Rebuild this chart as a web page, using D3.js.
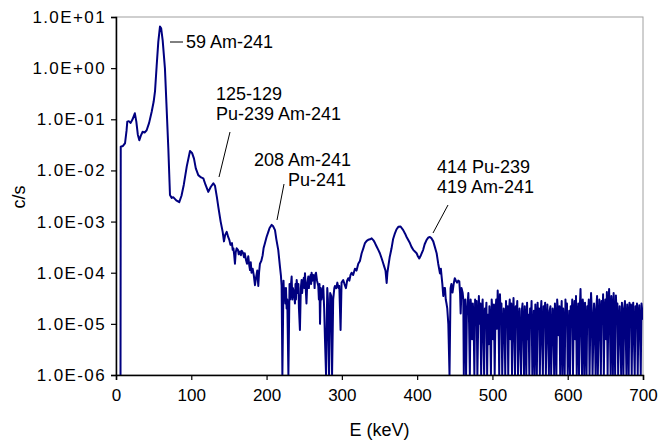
<!DOCTYPE html>
<html><head><meta charset="utf-8">
<script src="https://cdn.jsdelivr.net/npm/d3@7/dist/d3.min.js"></script>
<style>
body{margin:0;background:#fff}
text{font-family:"Liberation Sans",Arial,sans-serif;fill:#000}
</style></head>
<body><svg id="chart" width="658" height="441"></svg>
<script>
// ---------- DATA ----------
const xTicks = [0,100,200,300,400,500,600,700];
const yTicks = [1e-6,1e-5,1e-4,1e-3,1e-2,1e-1,1,10];
const yTickLabels = ["1.0E-06","1.0E-05","1.0E-04","1.0E-03","1.0E-02","1.0E-01","1.0E+00","1.0E+01"];

// [keV, c/s] low-energy part (Am-241 region)
const lowSpectrum = [
[6,0],[6.3,0.029],[9,0.03],[12,0.034],[14,0.06],[15,0.09],[17,0.092],[19.5,0.085],[22,0.1],[25,0.131],
[27,0.09],[29,0.05],[31,0.039],[33,0.048],[35.4,0.057],[38,0.055],[40.7,0.061],[44,0.085],[47.4,0.14],
[50,0.22],[51.8,0.35],[54,1.1],[56.2,3.3],[58.4,6.5],[60,6.0],[62,3.5],[65,0.99],[67,0.2],[69.5,0.027],
[71.7,0.0033],[74,0.0029],[76,0.003],[80,0.0026],[84,0.0024],[87,0.0032],[90,0.0052],[94,0.012],
[98.3,0.024],[101,0.022],[103.6,0.017],[106,0.011],[109.3,0.0081],[113,0.0073],[116,0.007],[119,0.0052],
[122.6,0.0038],[126,0.0048],[129.3,0.0056],[131.5,0.005],[134,0.003],[136,0.0019],[139,0.001],
[141.7,0.00063],[143.4,0.00041],[145,0.00055],[147,0.00063],[149,0.0005],[150.5,0.00044],[152,0.00035],
[154,0.00038],[155,0.00028],[156,0.0003],[157,0.00022],[158,0.00015],[159,0.00025],[160.3,0.0003],
[162,0.00028],[163,0.00023],[164.7,0.00026],[166,0.00022],[167,0.00027],[169,0.00024],[170,0.0002],
[171,0.00024],[172.6,0.00018],[174,0.00015],[175.7,0.00021],[177,0.00014],[178,0.000113],[179,0.00016],
[180,0.0001],[181.5,0.00012],[183,0.00009],[184.6,0.000057],[186,0.00008],[187.6,0.00011],[189,0.000055],
[190,0.0001],[191.2,0.00015],[193,0.00017],[194.8,0.00022],[196,0.0003],[197.9,0.00038],[200,0.0005],
[202.3,0.00063],[204,0.00075],[206.8,0.00086],[208.5,0.00082],[211.2,0.00068],[213,0.00045],
[215.5,0.00028],[217.8,0.00013],[219,0.00009],[220,0.000055]
];

// [keV, c/s] middle part (220-462 keV)
const midSpectrum = [
[221,0],[222.5,0.00007],[223.3,0.00003],[224,0.00005],[225,0.000025],[225.8,0.00005],[226.6,0.00002],[227.5,0.00003],[229,0],[230.5,0.00006],
[231.3,0.00003],[232,0.00005],[233.3,0.000084],[234.2,0.00003],[235,0.00005],[236.5,0.00004],[237.7,0.000025],[238.4,0.00006],[239,0.00003],
[240,0.000072],[241.5,0.00004],[242.3,0.00006],[243,0.00002],[244.3,0.0000076],[245.5,0.00005],[246.5,0.000072],
[247.3,0.00004],[248,0.00006],[249.5,0.00008],[250.3,0.00005],[251,0.000098],[252,0.00005],[253,0.000025],[254,0.00006],[255.4,0.000084],
[256.2,0.00005],[257,0.00007],[258.5,0.00009],[259.2,0.00006],[259.8,0.0001],[261,0.00007],[262,0.00009],[263,0.000084],[263.8,0.00005],[264.5,0.00009],
[265.6,0.0001],[267,0.00007],[268.7,0.000055],[269.5,0.00003],[270.3,0.00006],[271,0.00001],[272,0.00005],[273,0.00003],
[274,0.00004],[275.3,0.000055],[276.5,0.00002],[277.6,0.0000048],[279,0],[280.6,0.00005],[281.5,0.00003],
[283,0],[284.5,0.00004],[286,0.000035],[287,0],[288.5,0.00003],[290,0.00005],[290.8,0.000055],
[292.5,0.00005],[294,0.000064],[295.5,0.00005],[296.6,0.000055],[298.3,0.0000076],[299.6,0.000064],
[301.8,0.000072],[303.5,0.00006],[305.4,0.00005],[307,0.00007],[308.5,0.000078],[310,0.00007],
[311.5,0.00009],[313,0.0001],[315,0.00009],[317.4,0.00012],[319.5,0.00011],[321.8,0.00015],[324,0.00017],
[326.3,0.00024],[328.5,0.0003],[330.7,0.00038],[333,0.00042],[335,0.00044],[337.5,0.00045],[339.6,0.00047],
[342,0.00043],[344,0.00038],[346,0.00033],[348.4,0.00028],[350.5,0.00024],[352.9,0.00019],[354.5,0.00016],
[356.4,0.00013],[358,0.00011],[359.5,0.000063],[360.5,0.0001],[361.6,0.00013],[363.5,0.0002],[366,0.0003],
[368,0.00045],[370.5,0.00059],[372.5,0.0007],[375,0.00079],[378,0.0008],[381.5,0.00068],[384,0.00058],
[386,0.0005],[388,0.00044],[390.4,0.00038],[392.5,0.00032],[394.8,0.00028],[397,0.00026],[399.3,0.00024],
[401,0.00021],[402.8,0.00019],[405,0.00022],[408,0.00028],[410,0.00036],[412.6,0.00044],[415,0.00049],
[417,0.0005],[419,0.00047],[421.4,0.00041],[423.5,0.00032],[425.9,0.00024],[428,0.00015],[430.3,0.000097],
[431.5,0.00012],[432.5,0.000084],[433.5,0.00006],[434.7,0.000035],[436,0.00005],[437,0.00005],
[438,0.00003],[439,0.000025],[440,0.00002],[441.4,0.00001],[443,0],[444.4,0.00005],[445.5,0.00006],
[447,0.000041],[448.5,0.00006],[450,0.000078],[451.5,0.00007],[453,0.000064],[454.5,0.00007],
[456,0.000068],[457,0.00004],[457.8,0.000016],[459,0.00005],[460.5,0.00004],[461.3,0.00003],[462,0]
];

// high-energy background (463-700 keV, 1 keV channels)
const highStartKeV = 463, highStepKeV = 1;
const highCps = [
2e-5,3e-5,0,1.5e-5,2.5e-5,4e-5,1e-5,0,3e-5,2e-5,5e-6,2.5e-5,1.2e-5,0,3e-5,1.5e-5,2.8e-5,0,8e-6,3.5e-5,
1e-5,2.5e-5,0,1.8e-5,3e-5,6e-6,0,2e-5,1.2e-5,2.6e-5,0,1.5e-5,4e-6,2.2e-5,1e-5,0,3e-5,1.8e-5,5e-6,2.4e-5,
0,1.5e-5,3e-5,8e-6,4.5e-5,2e-5,0,3.8e-5,1.2e-5,2.5e-5,0,6e-6,2e-5,1.5e-5,0,2.8e-5,1e-5,2.2e-5,0,1.8e-5,
3e-5,5e-6,2.5e-5,0,1.2e-5,3.2e-5,8e-6,0,2.2e-5,1.5e-5,2.8e-5,0,1e-5,2e-5,4e-6,0,1.8e-5,2.5e-5,7e-6,0,
2.2e-5,1.2e-5,0,2.6e-5,5e-6,1.5e-5,0,2e-5,1e-5,2.8e-5,0,6e-6,1.8e-5,0,2.4e-5,1.2e-5,0,2.6e-5,8e-6,2e-5,
0,1.5e-5,2.8e-5,5e-6,0,2.2e-5,1.2e-5,2.6e-5,0,1e-5,2.4e-5,7e-6,0,1.8e-5,2.2e-5,0,5e-6,2e-5,1.5e-5,0,
2.5e-5,1e-5,0,3e-5,1.8e-5,6e-6,2.2e-5,0,1.2e-5,2.8e-5,0,2e-5,8e-6,0,3e-5,1.5e-5,2.5e-5,0,6e-6,1.8e-5,
0,2.2e-5,1e-5,3e-5,0,1.5e-5,2.8e-5,5e-6,3.5e-5,0,1.2e-5,2.5e-5,0,2e-5,4.8e-5,1e-5,0,3e-5,1.8e-5,0,
2.6e-5,8e-6,0,2.2e-5,1.5e-5,3e-5,0,1e-5,4e-5,1.8e-5,0,6e-6,2.5e-5,1.2e-5,0,2e-5,3.5e-5,0,8e-6,3e-5,
1.5e-5,0,2.8e-5,1e-5,3.8e-5,0,1.8e-5,3e-5,5e-6,4.2e-5,0,2e-5,4.8e-5,1.2e-5,0,3.5e-5,2e-5,0,4e-5,1e-5,
0,3.6e-5,1.5e-5,2.5e-5,0,1e-5,2.2e-5,6e-6,0,2.6e-5,1.2e-5,0,2e-5,2.8e-5,8e-6,0,2.4e-5,1.5e-5,0,2.6e-5,
1e-5,2.4e-5,0,1.8e-5,2.6e-5,5e-6,0,2.2e-5,1.2e-5,2.5e-5,0,1.5e-5,2.3e-5,8e-6,0,2.5e-5,1.8e-5,1.2e-5
];

const annotations = [
  {lines:["59 Am-241"], x:186, y:48, lx1:170, ly1:42, lx2:183, ly2:42},
  {lines:["125-129","Pu-239 Am-241"], x:216, y:100, lx1:230, ly1:132, lx2:219, ly2:177},
  {lines:["208 Am-241","Pu-241"], x:254, y:166, lx1:284, ly1:184, lx2:277, ly2:220, second:288},
  {lines:["414 Pu-239","419 Am-241"], x:437, y:173, lx1:448, ly1:205, lx2:433, ly2:233}
];

// ---------- CHART ----------
const svg = d3.select("#chart");
const L=116, R=643, T=17, B=375;
const x = d3.scaleLinear().domain([0,700]).range([L,R]);
const y = d3.scaleLog().domain([1e-6,10]).range([B,T]);

const highSpectrum = highCps.map((v,i)=>[highStartKeV+i*highStepKeV, v]);
const spectrum = lowSpectrum.concat(midSpectrum, highSpectrum);

svg.append("rect").attr("x",L).attr("y",T).attr("width",R-L).attr("height",B-T)
  .attr("fill","none").attr("stroke","#a0a0a0").attr("stroke-width",1);

svg.append("defs").append("clipPath").attr("id","clip")
  .append("rect").attr("x",L).attr("y",T-2).attr("width",R-L).attr("height",B-T+2);

const line = d3.line().x(d=>x(d[0])).y(d=>y(Math.max(d[1],1e-6)));
svg.append("path").datum(spectrum).attr("clip-path","url(#clip)")
  .attr("d",line).attr("fill","none").attr("stroke","#000080").attr("stroke-width",2)
  .attr("stroke-linejoin","round");

const yAxis = d3.axisLeft(y).tickValues(yTicks).tickSize(5).tickPadding(5)
  .tickFormat((d,i)=>yTickLabels[i]);
const gy = svg.append("g").attr("transform",`translate(${L},0)`).call(yAxis);
const xAxis = d3.axisBottom(x).tickValues(xTicks).tickSize(5).tickPadding(9).tickFormat(d3.format("d"));
const gx = svg.append("g").attr("transform",`translate(0,${B})`).call(xAxis);
[gx,gy].forEach(g=>{
  g.select(".domain").attr("stroke","#000").attr("stroke-width",1.5);
  g.selectAll(".tick line").attr("stroke","#000").attr("stroke-width",1.2);
  g.selectAll(".tick text").attr("font-size",17).attr("font-family","Liberation Sans, Arial, sans-serif").attr("fill","#000");
});
gy.selectAll(".tick text").attr("letter-spacing","1.4px");

svg.append("text").attr("transform","translate(25,197) rotate(-90)").attr("text-anchor","middle")
  .attr("font-size",18).text("c/s");
svg.append("text").attr("x",(L+R)/2).attr("y",436).attr("text-anchor","middle")
  .attr("font-size",18).text("E (keV)");

annotations.forEach(a=>{
  svg.append("line").attr("x1",a.lx1).attr("y1",a.ly1).attr("x2",a.lx2).attr("y2",a.ly2)
    .attr("stroke","#000").attr("stroke-width",1);
  a.lines.forEach((t,i)=>{
    svg.append("text").attr("x", i===1 && a.second ? a.second : a.x).attr("y",a.y+i*20)
      .attr("font-size",18).text(t);
  });
});
</script></body></html>
